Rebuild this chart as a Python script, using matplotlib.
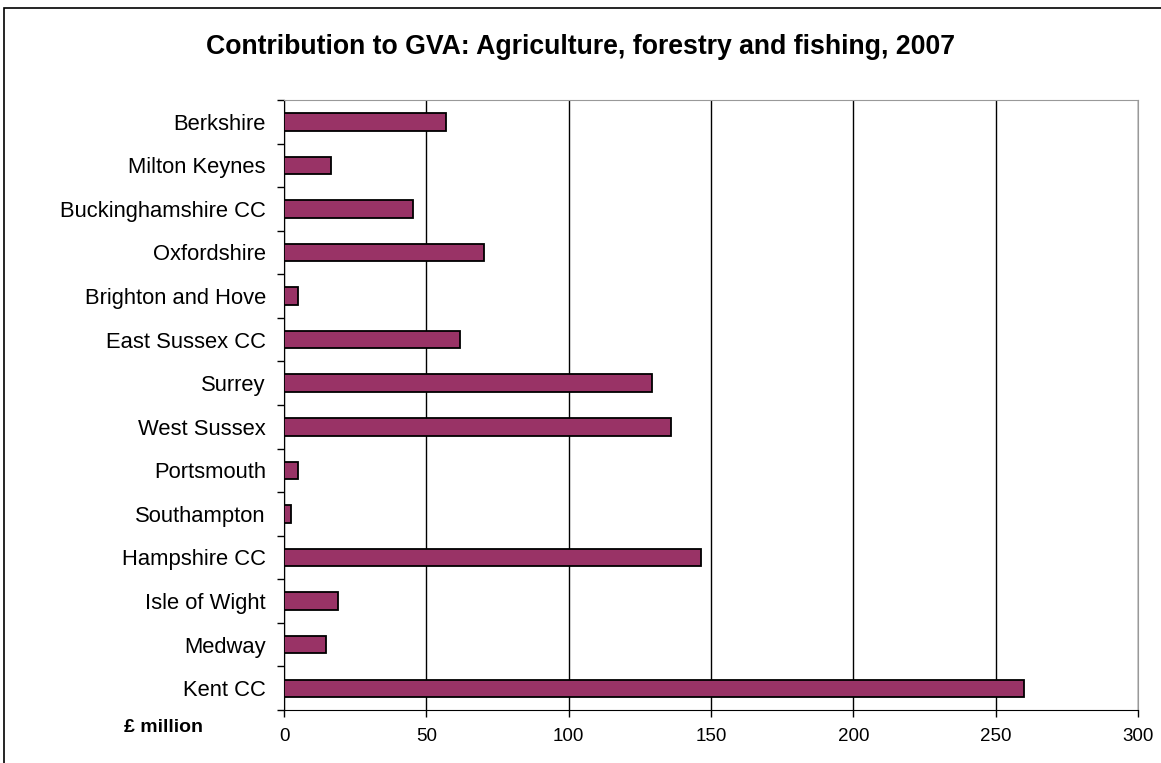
import numpy as np
import matplotlib.pyplot as plt
from matplotlib.patches import Rectangle

plt.rcParams['font.family'] = ['Liberation Sans', 'DejaVu Sans']

# ==========================================================
# DATA
# ==========================================================

AREAS = [
    "Berkshire", "Milton Keynes", "Buckinghamshire CC", "Oxfordshire",
    "Brighton and Hove", "East Sussex CC", "Surrey", "West Sussex",
    "Portsmouth", "Southampton", "Hampshire CC", "Isle of Wight",
    "Medway", "Kent CC",
]
GVA = [56.8, 16.5, 45.3, 70.3, 5.0, 61.7, 129.4, 136.1,
       5.0, 2.6, 146.4, 19.1, 14.9, 259.9]
X_TICKS = [0, 50, 100, 150, 200, 250, 300]

# ==========================================================
# PLOT
# ==========================================================

fig = plt.figure(figsize=(11.61, 7.63), dpi=100)
ax = fig.add_axes([284 / 1161, 1 - 710 / 763, (1138 - 284) / 1161, (710 - 100) / 763])

n = len(AREAS)
y = np.arange(n)[::-1]
ax.barh(y, GVA, height=0.4, color="#993366", edgecolor="black",
        linewidth=1.3, zorder=3)

ax.set_xlim(0, 300)
ax.set_ylim(-0.5, n - 0.5)
ax.set_xticks(X_TICKS)
ax.set_xticklabels([str(t) for t in X_TICKS], fontsize=13.5)
ax.xaxis.grid(True, color="black", linewidth=1)
ax.set_axisbelow(True)

# category labels without ticks, ticks between categories
ax.set_yticks(y)
ax.set_yticklabels(AREAS, fontsize=15.8)
ax.tick_params(axis="y", length=0, pad=13)
ax.set_yticks(np.arange(n + 1) - 0.5, minor=True)
ax.tick_params(axis="y", which="minor", length=5, width=1, direction="out")
ax.tick_params(axis="x", length=5, width=1, direction="out", pad=8)

ax.spines["left"].set_color("black")
ax.spines["bottom"].set_color("black")
ax.spines["top"].set_color("#999999")
ax.spines["right"].set_color("#999999")

fig.text(580 / 1161, 1 - 47 / 763, "Contribution to GVA: Agriculture, forestry and fishing, 2007",
         ha="center", va="center", fontsize=19.2, fontweight="bold")
fig.text(163 / 1161, 1 - 728 / 763, "£ million", ha="center", va="center",
         fontsize=14, fontweight="bold")

# outer frame
fig.patches.append(Rectangle((4 / 1161, -0.01), 1.02, 1 - 8 / 763 + 0.01,
                             transform=fig.transFigure, fill=False,
                             edgecolor="black", linewidth=1.2))

fig.savefig("out.png", dpi=100)
